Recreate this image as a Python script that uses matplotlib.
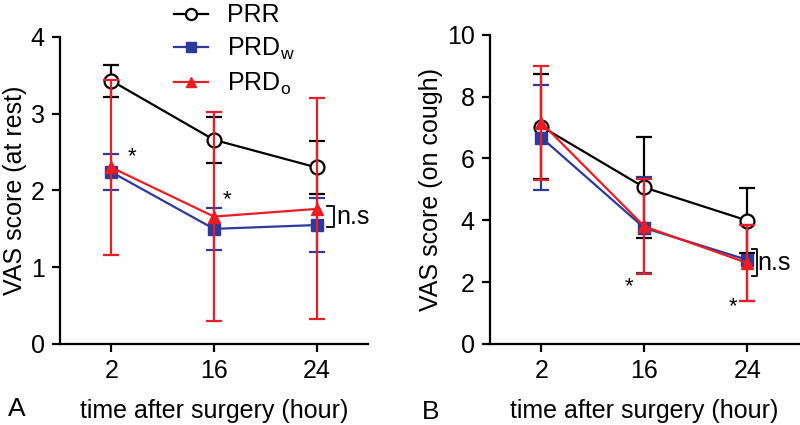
import numpy as np
import matplotlib
matplotlib.use('Agg')
import matplotlib.pyplot as plt
from matplotlib.lines import Line2D

# フォント設定
plt.rcParams['font.family'] = ['Liberation Sans', 'DejaVu Sans']
plt.rcParams['mathtext.default'] = 'regular'

# データ
times = ['2', '16', '24']

# A: 安静時
rest_prr = [3.43, 2.66, 2.30]
rest_prr_err = [0.21, 0.30, 0.35]
rest_prdw = [2.24, 1.50, 1.55]
rest_prdw_err = [0.23, 0.27, 0.35]
rest_prdo = [2.30, 1.66, 1.76]
rest_prdo_err = [1.14, 1.36, 1.44]

# B: 咳嗽時
cough_prr = [7.03, 5.06, 3.99]
cough_prr_err = [1.70, 1.63, 1.05]
cough_prdw = [6.67, 3.75, 2.72]
cough_prdw_err_lo = [1.69, 1.47, 1.32]
cough_prdw_err_hi = [1.69, 1.64, 1.14]
cough_prdo = [7.15, 3.80, 2.62]
cough_prdo_err = [1.84, 1.55, 1.24]

black = 'black'
blue = '#2b3a9b'
red = '#ec1c24'
fs = 18

fig = plt.figure(figsize=(8, 4.25), dpi=100)
axA = fig.add_axes([0.075, 0.1906, 0.385, 0.7224])
axB = fig.add_axes([0.6125, 0.1906, 0.386, 0.7278])

x = np.arange(len(times))


def draw(ax, prr, prr_e, prdw, prdw_e, prdo, prdo_e):
    ax.errorbar(x, prr, yerr=prr_e, color=black, lw=1.6, marker='o', ms=10,
                mfc='white', mec=black, mew=1.6, capsize=6, capthick=1.6,
                elinewidth=1.6, zorder=2)
    ax.errorbar(x, prdw, yerr=prdw_e, color=blue, lw=1.6, marker='s', ms=8.5,
                capsize=6, capthick=1.6, elinewidth=1.6, zorder=3)
    ax.errorbar(x, prdo, yerr=prdo_e, color=red, lw=1.6, marker='^', ms=8.5,
                capsize=6, capthick=1.6, elinewidth=1.6, zorder=4)
    ax.set_xlim(-0.5, 2.5)
    ax.set_xticks(x)
    ax.set_xticklabels(times)
    ax.spines['top'].set_visible(False)
    ax.spines['right'].set_visible(False)
    ax.spines['left'].set_linewidth(1.6)
    ax.spines['bottom'].set_linewidth(1.6)
    ax.tick_params(direction='out', length=6, width=1.6, labelsize=fs, pad=5)
    ax.set_xlabel('time after surgery (hour)', fontsize=fs, labelpad=11)


draw(axA, rest_prr, rest_prr_err, rest_prdw, rest_prdw_err, rest_prdo, rest_prdo_err)
axA.set_ylim(0, 4)
axA.set_yticks([0, 1, 2, 3, 4])
axA.set_ylabel('VAS score (at rest)', fontsize=fs, labelpad=3)

draw(axB, cough_prr, cough_prr_err, cough_prdw, [cough_prdw_err_lo, cough_prdw_err_hi],
     cough_prdo, cough_prdo_err)
axB.set_ylim(0, 10)
axB.set_yticks([0, 2, 4, 6, 8, 10])
axB.set_ylabel('VAS score (on cough)', fontsize=fs, labelpad=3)

# 凡例（線とマーカーのみ）
handles = [
    Line2D([], [], color=black, lw=1.6, marker='o', ms=8, mfc='white', mew=1.6),
    Line2D([], [], color=blue, lw=1.6, marker='s', ms=7.5),
    Line2D([], [], color=red, lw=1.6, marker='^', ms=7.5),
]
labels = ['PRR', 'PRD$_w$', 'PRD$_o$']
axA.legend(handles, labels, loc='upper left', bbox_to_anchor=(0.33, 1.15), frameon=False,
           fontsize=fs, handlelength=1.35, handletextpad=0.75, labelspacing=0.35,
           borderpad=0)

# 有意差マーク
axA.text(0.2, rest_prdo[0] + 0.14, '*', fontsize=16, ha='center', va='center')
axA.text(1.13, rest_prdo[1] + 0.22, '*', fontsize=16, ha='center', va='center')
axB.text(0.85, 1.85, '*', fontsize=16, ha='center', va='center')
axB.text(1.86, 1.2, '*', fontsize=16, ha='center', va='center')

# n.s ブラケット
top, bot = rest_prdo[2] + 0.04, rest_prdw[2] - 0.03
axA.plot([2.1, 2.17, 2.17, 2.1], [top, top, bot, bot], color='black', lw=1.3, clip_on=False)
axA.text(2.19, (top + bot) / 2, 'n.s', fontsize=fs, ha='left', va='center')
top, bot = cough_prdw[2] + 0.34, cough_prdo[2] - 0.42
axB.plot([2.05, 2.09, 2.09, 2.05], [top, top, bot, bot], color='black', lw=1.3, clip_on=False)
axB.text(2.1, (top + bot) / 2, 'n.s', fontsize=fs, ha='left', va='center')

# パネルラベル
fig.text(0.01, 0.02, 'A', fontsize=19)
fig.text(0.527, 0.015, 'B', fontsize=19)

fig.savefig('out.png', dpi=100)
